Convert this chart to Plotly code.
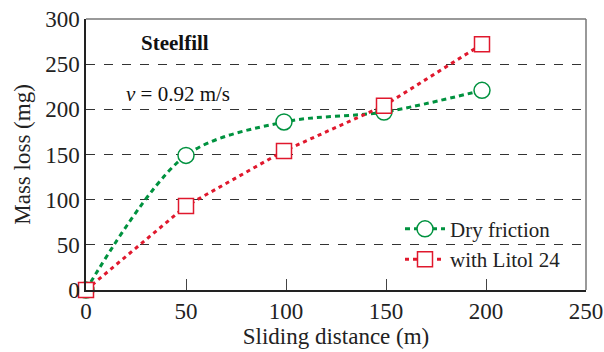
import plotly.graph_objects as go

distance_dry = [0, 50, 99, 149, 198]
mass_dry = [0, 149, 186, 197, 221]
distance_litol = [0, 50, 99, 149, 198]
mass_litol = [0, 93, 154, 204, 272]
x_ticks = [0, 50, 100, 150, 200, 250]
y_ticks = [0, 50, 100, 150, 200, 250, 300]

GREEN = "#00923F"
RED = "#E0182D"
FONT = "Liberation Serif, Times New Roman, serif"

fig = go.Figure()
fig.add_trace(go.Scatter(
    x=distance_dry, y=mass_dry, name="Dry friction", mode="lines+markers",
    line=dict(color=GREEN, width=3, dash="5px,4px", shape="spline", smoothing=0.9),
    marker=dict(symbol="circle", size=16, color="white", line=dict(color=GREEN, width=1.5)),
    cliponaxis=False,
))
fig.add_trace(go.Scatter(
    x=distance_litol, y=mass_litol, name="with Litol 24", mode="lines+markers",
    line=dict(color=RED, width=3, dash="4px,4px"),
    marker=dict(symbol="square", size=15, color="white", line=dict(color=RED, width=1.5)),
    cliponaxis=False,
))

fig.update_layout(
    width=604, height=352,
    margin=dict(l=86, r=18, t=19, b=62, autoexpand=False),
    plot_bgcolor="white", paper_bgcolor="white",
    font=dict(family=FONT, size=23, color="#222"),
    showlegend=True,
    legend=dict(x=0.628, y=0.30, xanchor="left", yanchor="top", bgcolor="rgba(0,0,0,0)",
                font=dict(size=21, family=FONT), itemwidth=40, tracegroupgap=2),
    xaxis=dict(range=[0, 250], tickvals=x_ticks, showgrid=False, zeroline=False,
               automargin=False,
               showline=True, linecolor="#222", linewidth=1.5,
               ticks="inside", ticklen=11, tickcolor="#444", tickwidth=1,
               title=dict(text="Sliding distance (m)", font=dict(size=23), standoff=4)),
    yaxis=dict(range=[0, 300], tickvals=y_ticks, showgrid=True, gridcolor="#333",
               griddash="dash", gridwidth=1, zeroline=False, automargin=False,
               showline=True, linecolor="#222", linewidth=1.5, ticks="",
               title=dict(text="Mass loss (mg)", font=dict(size=23), standoff=8)),
    shapes=[
        dict(type="line", xref="paper", yref="paper", x0=0, x1=1, y0=1, y1=1,
             line=dict(color="#777", width=1.5)),
        dict(type="line", xref="paper", yref="paper", x0=1, x1=1, y0=0, y1=1,
             line=dict(color="#777", width=1.5)),
    ],
    annotations=[
        dict(text="<b>Steelfill</b>", x=44.5, y=273, xref="x", yref="y", showarrow=False,
             xanchor="center", font=dict(size=21, family=FONT, color="#111")),
        dict(text="<i>v</i> = 0.92 m/s", x=46, y=217, xref="x", yref="y", showarrow=False,
             xanchor="center", font=dict(size=21, family=FONT, color="#111")),
    ],
)

fig.write_html("out.html")
